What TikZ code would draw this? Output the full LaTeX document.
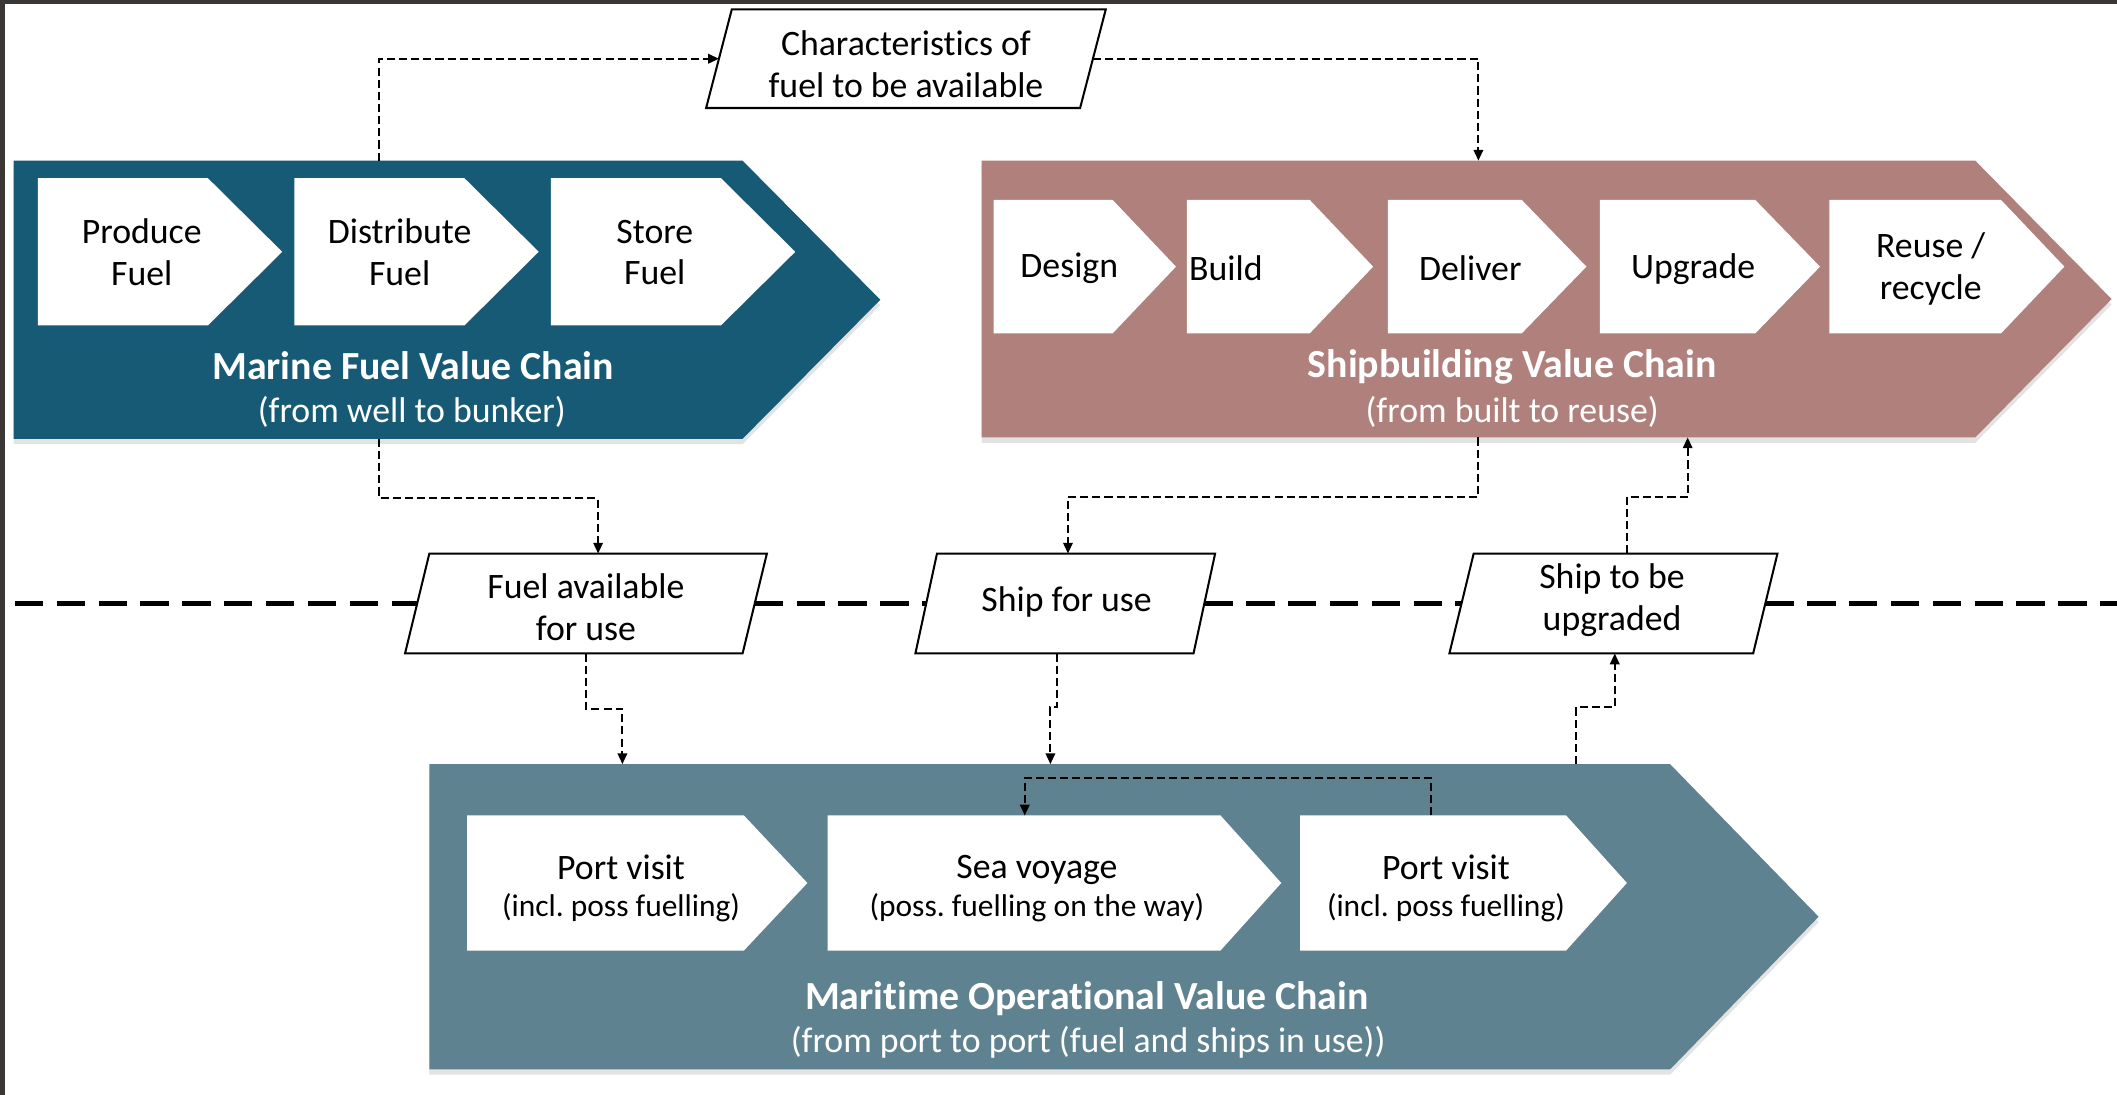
\documentclass[tikz,border=0pt]{standalone}
\usepackage{fontspec}
\setmainfont{Carlito}[Ligatures=NoCommon]
\usetikzlibrary{arrows.meta,shadows}
\definecolor{mfblue}{RGB}{22,90,118}
\definecolor{sbrose}{RGB}{176,128,124}
\definecolor{mopteal}{RGB}{94,130,143}
\definecolor{framecol}{RGB}{58,54,51}
\newcommand\chevshape[3]{\fill[#2] (#1.north west) -- (#1.north east) -- ([xshift=#3]#1.east) -- (#1.south east) -- (#1.south west) -- cycle;}
\newcommand\parashape[2]{\draw[pbox] ([xshift=#2]#1.north west) -- ([xshift=#2]#1.north east) -- ([xshift=-#2]#1.south east) -- ([xshift=-#2]#1.south west) -- cycle;}
\newcommand\smalltxt{\fontsize{23.3}{28}\selectfont}
\tikzset{
  geom/.style={inner sep=0pt, outer sep=0pt},
  lbl/.style={font=\fontsize{26.5}{31}\selectfont\frenchspacing, align=center, inner sep=0pt},
  lbls/.style={font=\fontsize{26.5}{28}\selectfont\frenchspacing, align=center, inner sep=0pt},
  ttl/.style={font=\fontsize{29.5}{34}\selectfont\bfseries, text=white, inner sep=0pt},
  subt/.style={font=\fontsize{26.5}{31}\selectfont, text=white, inner sep=0pt},
  pbox/.style={draw=black, line width=1.5pt},
  conn/.style={draw=black, line width=1.5pt, dash pattern=on 6pt off 3pt, -{Triangle[length=8pt,width=7pt]}},
  bigdash/.style={draw=black, line width=3pt, dash pattern=on 21pt off 10pt},
  shad/.style={drop shadow={opacity=0.22, shadow xshift=0pt, shadow yshift=-4pt}}
}
\begin{document}
\begin{tikzpicture}[x=1pt,y=-1pt]
\useasboundingbox (0,0) rectangle (1568,811);
\fill[white] (0,0) rectangle (1568,811);
\fill[framecol] (0,0) rectangle (1568,3);
\fill[framecol] (0,0) rectangle (3.5,811);

% big chevron bodies
\node[geom, minimum width=540pt, minimum height=206pt] (marine) at (280,222) {};
\node[geom, minimum width=736pt, minimum height=205pt] (ship) at (1095,221.5) {};
\node[geom, minimum width=919pt, minimum height=226pt] (marit) at (777.5,679) {};
\chevshape{marine}{mfblue,shad}{102pt}
\chevshape{ship}{sbrose,shad}{101pt}
\chevshape{marit}{mopteal,shad}{110pt}

% inner chevrons
\node[geom, minimum width=126pt, minimum height=109pt] (produce) at (91,186.5) {};
\node[geom, minimum width=126pt, minimum height=109pt] (distrib) at (281,186.5) {};
\node[geom, minimum width=126pt, minimum height=109pt] (store) at (471,186.5) {};
\chevshape{produce}{white}{55pt}
\chevshape{distrib}{white}{55pt}
\chevshape{store}{white}{55pt}

\node[geom, minimum width=88pt, minimum height=99pt] (design) at (780,197.5) {};
\node[geom, minimum width=91pt, minimum height=99pt] (build) at (924.5,197.5) {};
\node[geom, minimum width=99pt, minimum height=99pt] (deliver) at (1077.5,197.5) {};
\node[geom, minimum width=115pt, minimum height=99pt] (upgrade) at (1242.5,197.5) {};
\node[geom, minimum width=127pt, minimum height=99pt] (reuse) at (1418.5,197.5) {};
\chevshape{design}{white}{47pt}
\chevshape{build}{white}{47pt}
\chevshape{deliver}{white}{48pt}
\chevshape{upgrade}{white}{48pt}
\chevshape{reuse}{white}{47pt}

\node[geom, minimum width=205pt, minimum height=100pt] (port1) at (448.5,654) {};
\node[geom, minimum width=291pt, minimum height=100pt] (sea) at (758.5,654) {};
\node[geom, minimum width=197pt, minimum height=100pt] (port2) at (1061.5,654) {};
\chevshape{port1}{white}{47pt}
\chevshape{sea}{white}{45pt}
\chevshape{port2}{white}{45pt}

% texts in chevrons
\node[lbl] (tproduce) at (105,187) {Produce\\Fuel};
\node[lbl] (tdistrib) at (296,187) {Distribute\\Fuel};
\node[lbl] (tstore) at (485,187) {Store\\Fuel};
\node[ttl] (tmarine) at (306,271) {Marine Fuel Value Chain};
\node[subt] (tmarinesub) at (305,305) {(from well to bunker)};

\node[lbl] (tdesign) at (792,199) {Design};
\node[lbl] (tbuild) at (908,199) {Build};
\node[lbl] (tdeliver) at (1089,199) {Deliver};
\node[lbl] (tupgrade) at (1254,199) {Upgrade};
\node[lbl] (treuse) at (1430,199) {Reuse /\\recycle};
\node[ttl] (tship) at (1120,272) {Shipbuilding Value Chain};
\node[subt] (tshipsub) at (1120,305) {(from built to reuse)};

\node[lbls] (tport1) at (460,658) {Port visit\\{\smalltxt (incl. poss fuelling)}};
\node[lbls] (tsea) at (768,658) {Sea voyage\\{\smalltxt (poss. fuelling on the way)}};
\node[lbls] (tport2) at (1071,658) {Port visit\\{\smalltxt (incl. poss fuelling)}};
\node[ttl] (tmarit) at (805,740) {Maritime Operational Value Chain};
\node[subt] (tmaritsub) at (806,772) {(from port to port (fuel and ships in use))};

% parallelograms
\node[geom, minimum width=277pt, minimum height=73pt] (char) at (671,43.5) {};
\node[geom, minimum width=250pt, minimum height=74pt] (fuelav) at (434,447) {};
\node[geom, minimum width=206pt, minimum height=74pt] (shipuse) at (789,447) {};
\node[geom, minimum width=225pt, minimum height=74pt] (shipup) at (1195,447) {};
\parashape{char}{9.5pt}
\parashape{fuelav}{9pt}
\parashape{shipuse}{8pt}
\parashape{shipup}{9pt}
\node[lbl] (tchar) at (671,47.5) {Characteristics of\\fuel to be available};
\node[lbl] (tfuelav) at (434,449.5) {Fuel available\\for use};
\node[lbl] (tshipuse) at (790,446) {Ship for use};
\node[lbl] (tshipup) at (1194,444.5) {Ship to be\\upgraded};

% thick dashed separator
\coordinate (sepL) at (11,447);
\coordinate (sepR) at (1568,447);
\draw[bigdash] (sepL) -- (fuelav.west);
\draw[bigdash] (fuelav.east) -- (shipuse.west);
\draw[bigdash] (shipuse.east) -- (shipup.west);
\draw[bigdash] (shipup.east) -- (sepR);

% connectors
\draw[conn] ([xshift=271pt]marine.north west) |- (char.west);
\draw[conn] (char.east) -| ([xshift=368pt]ship.north west);
\draw[conn] ([xshift=271pt]marine.south west) -- ++(0,44) -| ([xshift=9pt]fuelav.north);
\draw[conn] (fuelav.south) -- ++(0,41) -| ([xshift=143pt]marit.north west);
\draw[conn] ([xshift=368pt]ship.south west) -- ++(0,44) -| ([xshift=2pt]shipuse.north);
\draw[conn] ([xshift=-6pt]shipuse.south) -- ++(0,40) -| ([xshift=460pt]marit.north west);
\draw[conn] ([xshift=97pt]port2.north west) -- ++(0,-28) -| ([xshift=146pt]sea.north west);
\draw[conn] ([xshift=849pt]marit.north west) -- ++(0,-42) -| ([xshift=1pt]shipup.south);
\draw[conn] ([xshift=10pt]shipup.north) -- ++(0,-42) -| ([xshift=523pt]ship.south west);
\end{tikzpicture}
\end{document}
